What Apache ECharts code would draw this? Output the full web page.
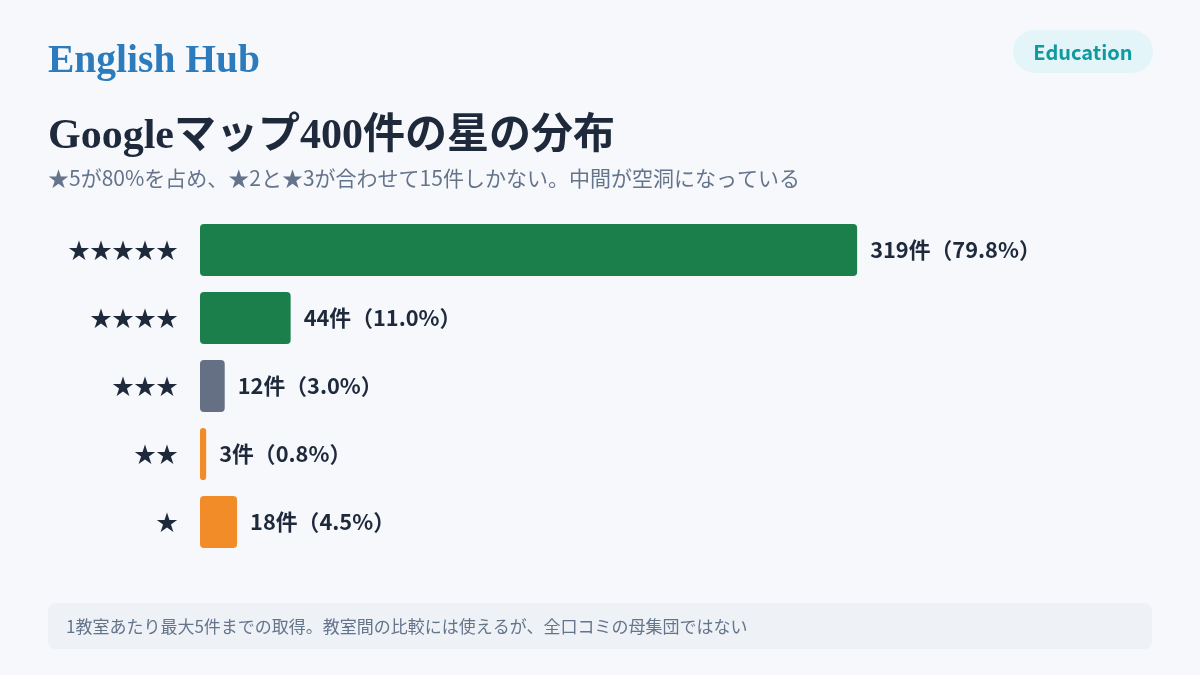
<!DOCTYPE html>
<html lang="ja">
<head>
    <meta charset="UTF-8">
    <title>Googleマップ400件の星の分布</title>
    <script src="https://cdn.jsdelivr.net/npm/echarts@6/dist/echarts.min.js"></script>
    <style>
        html, body { margin: 0; padding: 0; background: #f6f8fb; }
        #chart { width: 1200px; height: 675px; }
    </style>
</head>
<body>
    <div id="chart"></div>
    <script>
        // データ
        const categories = ['★★★★★', '★★★★', '★★★', '★★', '★'];
        const counts = [319, 44, 12, 3, 18];
        const percents = [79.8, 11.0, 3.0, 0.8, 4.5];
        const total = 400;
        const barColors = ['#1a7f4b', '#1a7f4b', '#667085', '#f28c28', '#f28c28'];

        const sans = "'Noto Sans CJK JP', 'Noto Sans', sans-serif";
        const serif = "'Liberation Serif', 'Noto Sans CJK JP', serif";

        const chart = echarts.init(document.getElementById('chart'));
        const option = {
            backgroundColor: '#f6f8fb',
            animation: false,
            grid: { left: 200, top: 216, width: 824, height: 340 },
            xAxis: {
                type: 'value',
                min: 0,
                max: total,
                show: false,
                splitLine: { show: false }
            },
            yAxis: {
                type: 'category',
                inverse: true,
                data: categories,
                axisLine: { show: false },
                axisTick: { show: false },
                axisLabel: {
                    margin: 22,
                    fontFamily: sans,
                    fontSize: 22,
                    color: '#1e293b'
                }
            },
            series: [{
                type: 'bar',
                barWidth: 52,
                data: counts.map((v, i) => ({
                    value: v,
                    itemStyle: { color: barColors[i], borderRadius: 4 }
                })),
                label: {
                    show: true,
                    position: 'right',
                    distance: 13,
                    fontFamily: sans,
                    fontSize: 21.8,
                    fontWeight: 'bold',
                    color: '#1e293b',
                    formatter: p => counts[p.dataIndex] + '件（' + percents[p.dataIndex].toFixed(1) + '%）'
                }
            }],
            graphic: [
                {
                    type: 'text', x: 48, y: 62,
                    style: { text: 'English Hub', font: 'bold 39.5px ' + serif, fill: '#2b7bbd', verticalAlign: 'middle' }
                },
                {
                    type: 'rect', shape: { x: 1013, y: 30, width: 140, height: 43, r: 21.5 },
                    style: { fill: '#e4f5fa' }
                },
                {
                    type: 'text', x: 1083, y: 52,
                    style: { text: 'Education', font: 'bold 20px ' + sans, fill: '#0f9aa0', align: 'center', verticalAlign: 'middle' }
                },
                {
                    type: 'text', x: 48, y: 137,
                    style: { text: 'Googleマップ400件の星の分布', font: 'bold 42px ' + serif, fill: '#1e293b', verticalAlign: 'middle' }
                },
                {
                    type: 'text', x: 48, y: 178,
                    style: { text: '★5が80%を占め、★2と★3が合わせて15件しかない。中間が空洞になっている', font: '21px ' + sans, fill: '#64748b', verticalAlign: 'middle' }
                },
                {
                    type: 'rect', shape: { x: 48, y: 603, width: 1104, height: 46, r: 8 },
                    style: { fill: '#eef1f5' }
                },
                {
                    type: 'text', x: 66, y: 627,
                    style: { text: '1教室あたり最大5件までの取得。教室間の比較には使えるが、全口コミの母集団ではない', font: '17px ' + sans, fill: '#64748b', verticalAlign: 'middle' }
                }
            ]
        };
        chart.setOption(option);
    </script>
</body>
</html>
